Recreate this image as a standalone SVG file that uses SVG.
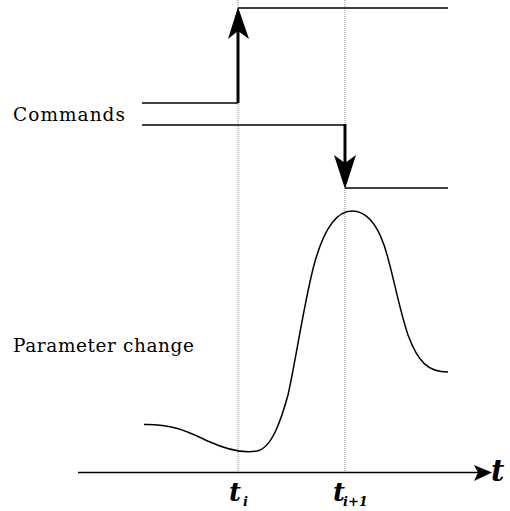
<svg xmlns="http://www.w3.org/2000/svg" width="510" height="511" viewBox="0 0 510 511">
<style>
.ln{stroke:#000;stroke-width:1.5;fill:none}
.thick{stroke:#000;stroke-width:3;fill:none}
.dot{stroke:#888;stroke-width:1;stroke-dasharray:1 1;fill:none}
.lbl{font-family:"DejaVu Serif","Liberation Serif",serif;font-size:18.5px;fill:#000}
.tb{font-family:"DejaVu Serif","Liberation Serif",serif;font-weight:bold;font-style:italic;fill:#000}
.head{fill:#000}
</style>
<rect width="510" height="511" fill="#fff"/>
<g id="guides">
<line class="dot" x1="238" y1="0" x2="238" y2="472"/>
<line class="dot" x1="345" y1="0" x2="345" y2="472"/>
</g>
<g id="commands">
<text class="lbl" x="13" y="121" textLength="112" lengthAdjust="spacing">Commands</text>
<polyline class="ln" points="142,103 238,103"/>
<polyline class="ln" points="238,8 448,8"/>
<line class="thick" x1="238" y1="103" x2="238" y2="30"/>
<polygon class="head" points="238,7 249,39 238,31 228,39"/>
<polyline class="ln" points="142,125 345,125"/>
<polyline class="ln" points="345,188 448,188"/>
<line class="thick" x1="345" y1="124" x2="345" y2="163"/>
<polygon class="head" points="345,189 356,155 345,163 334,155"/>
</g>
<g id="parameter">
<text class="lbl" x="13" y="352" textLength="181" lengthAdjust="spacing">Parameter change</text>
<path class="ln" d="M144,424.5 C175,424 190,433 210,442 C230,451 245,453 257,451 C272,448 281,420 288,395 C296,360 306,290 316,258 C326,225 338,211 352,211 C366,211 376,222 384,245 C392,268 398,305 408,335 C418,362 428,372 448,372"/>
</g>
<g id="axis">
<line class="ln" x1="78" y1="472.5" x2="480" y2="472.5"/>
<polygon class="head" points="492,472.5 474,465 478,472.5 474,481"/>
<text class="tb" x="491" y="481" font-size="29">t</text>
<text class="tb" x="229" y="501" font-size="26">t</text>
<text class="tb" x="243" y="506" font-size="13">i</text>
<text class="tb" x="333" y="501" font-size="26">t</text>
<text class="tb" x="343" y="506" font-size="13">i+1</text>
</g>
</svg>
